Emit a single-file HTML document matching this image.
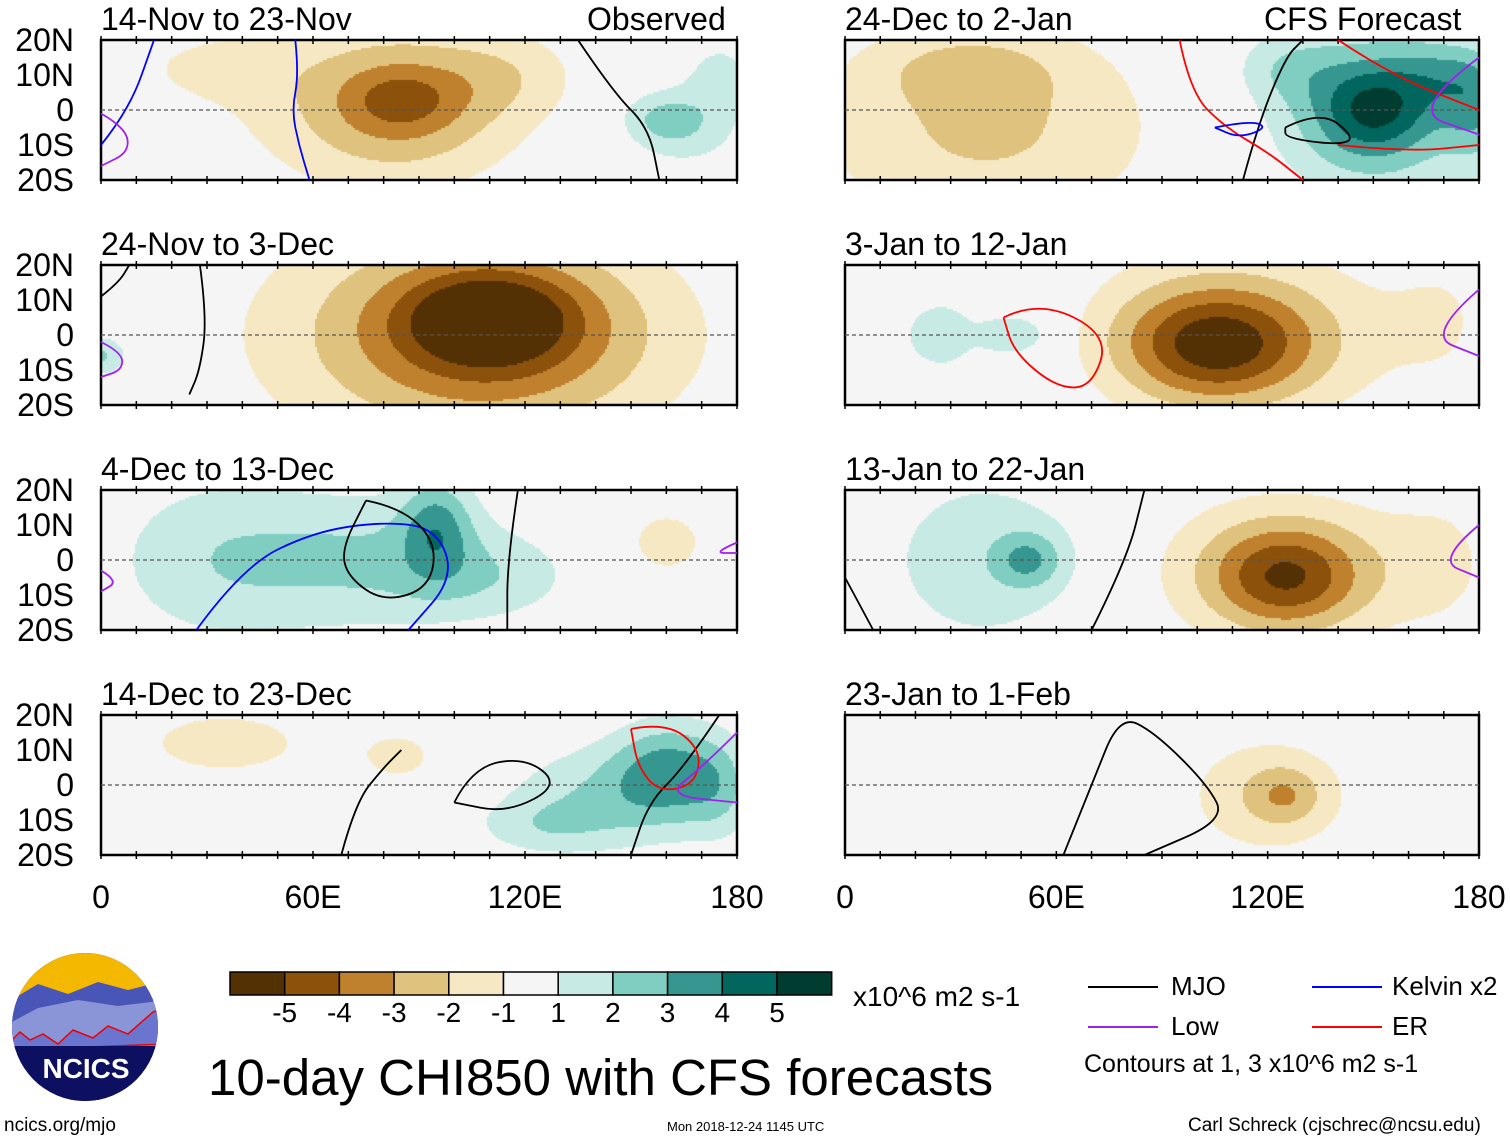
<!DOCTYPE html>
<html><head><meta charset="utf-8"><style>
html,body{margin:0;padding:0;background:#fff}
body{width:1510px;height:1142px;position:relative;overflow:hidden;font-family:"Liberation Sans",sans-serif;color:#000}
.t{position:absolute;white-space:nowrap;line-height:1}
canvas{position:absolute}
svg{position:absolute;left:0;top:0}
</style></head><body>
<div id="root"></div>
<svg id="ov" width="1510" height="1142"></svg>
<script>
// ---- data ----
const levels=[-5,-4,-3,-2,-1,1,2,3,4,5];
const colors=["#543005","#8c510a","#bf812d","#dfc27d","#f6e8c3","#f5f5f5","#c7eae5","#80cdc1","#35978f","#01665e","#003c30"];
const titles=["14-Nov to 23-Nov","24-Nov to 3-Dec","4-Dec to 13-Dec","14-Dec to 23-Dec","24-Dec to 2-Jan","3-Jan to 12-Jan","13-Jan to 22-Jan","23-Jan to 1-Feb"];
const latTicks=["20N","10N","0","10S","20S"];
const lonTicks=["0","60E","120E","180"];
const lonTickVals=[0,60,120,180];
// blobs: [lon, lat, amplitude, lonWidth, latWidth]
const blobs1=[[85,0,-2.0,30,20],[85,3,-1.5,15,9],[75,5,-1.3,50,30],[115,10,-1,20,12],[30,12,-0.8,25,10],[158,-2,1.8,12,8],[175,8,1.4,12,14],[165,-8,1.1,15,10]];
const blobs2=[[110,5,-3.3,23,13],[110,0,-3,45,25],[100,0,-1.5,70,40],[0,-6,2.2,6,6],[15,-5,1.2,10,12]];
const blobs3=[[95,10,2.5,10,14],[75,0,2,40,20],[30,0,1.4,30,25],[110,-5,1.2,25,12],[160,5,-1.6,12,10]];
const blobs4=[[35,12,-1.4,30,12],[85,8,-1.2,15,10],[160,5,2.5,15,14],[145,-3,2.0,30,15],[175,0,1.5,10,15],[125,-12,1.2,20,8]];
const blobs5=[[40,-5,-2.2,50,30],[35,12,-1.2,25,10],[150,0,3,30,25],[150,0,2.5,15,12],[170,10,1.5,15,10],[125,12,1.2,15,10],[180,0,2,10,15]];
const blobs6=[[105,-3,-3.5,25,15],[110,0,-2.5,45,25],[50,0,1.5,8,5],[30,0,1.2,30,25],[170,5,-0.8,15,20]];
const blobs7=[[125,-5,-3,20,14],[125,-3,-2.3,40,22],[52,0,2.2,10,8],[40,0,1.5,35,30],[170,0,-0.8,15,20]];
const blobs8=[[125,-3,-1.5,10,8],[120,-3,-1.8,25,18],[45,0,0.6,20,20],[175,-3,1,5,5]];
const allBlobs=[blobs1,blobs2,blobs3,blobs4,blobs5,blobs6,blobs7,blobs8];
// contours: [panel, color, points [lon,lat]]
const contours=[
[0,"#0000ff",[[0,-10],[8,0],[15,20]]],
[0,"#0000ff",[[55,20],[56,10],[54,0],[56,-10],[59,-20]]],
[0,"#000",[[135,20],[145,5],[155,-5],[158,-20]]],
[0,"#a020f0",[[0,-1],[7,-5],[8,-12],[0,-16]]],
[1,"#000",[[28,20],[30,5],[28,-10],[25,-17]]],
[1,"#000",[[0,11],[5,15],[8,20]]],
[1,"#a020f0",[[0,-2],[6,-5],[6,-10],[0,-12]]],
[2,"#0000ff",[[27,-20],[40,-2],[60,8],[80,11],[95,9],[100,-5],[87,-20]]],
[2,"#000",[[75,17],[85,15],[95,5],[93,-8],[80,-12],[70,-5],[68,3],[75,17]]],
[2,"#000",[[118,20],[115,0],[115,-20]]],
[2,"#a020f0",[[0,-3],[5,-6],[0,-9]]],
[2,"#a020f0",[[180,5],[173,2],[180,2]]],
[3,"#000",[[68,-20],[72,-5],[80,5],[85,10]]],
[3,"#000",[[100,-5],[105,5],[120,8],[130,0],[115,-8],[100,-5]]],
[3,"#000",[[175,20],[165,5],[155,-5],[150,-20]]],
[3,"#ff0000",[[150,16],[160,18],[170,10],[168,0],[158,-2],[152,5],[150,16]]],
[3,"#a020f0",[[180,15],[170,5],[160,-3],[180,-5]]],
[4,"#000",[[113,-20],[117,-5],[125,15],[130,20]]],
[4,"#000",[[125,-5],[135,0],[145,-8],[140,-10],[125,-8],[125,-5]]],
[4,"#ff0000",[[95,20],[98,5],[108,-5],[120,-12],[130,-20]]],
[4,"#ff0000",[[140,20],[155,10],[180,0]]],
[4,"#ff0000",[[140,-10],[160,-12],[180,-10]]],
[4,"#0000ff",[[105,-5],[115,-3],[120,-5],[112,-8],[105,-5]]],
[4,"#a020f0",[[180,15],[160,0],[180,-7]]],
[5,"#ff0000",[[45,5],[55,10],[75,0],[70,-15],[60,-15],[48,-5],[45,5]]],
[5,"#a020f0",[[180,13],[165,0],[180,-6]]],
[6,"#000",[[0,-5],[8,-20]]],
[6,"#000",[[70,-20],[80,0],[85,20]]],
[6,"#a020f0",[[180,10],[168,0],[180,-5]]],
[7,"#000",[[62,-20],[70,0],[78,20],[88,15],[103,0],[108,-10],[85,-20]]]
];
// ---- layout ----
const PX=[101,845],PW=[636,634],PT=[40,265,490,715],PH=140;
const root=document.getElementById('root');
const ov=document.getElementById('ov');
const NS="http://www.w3.org/2000/svg";
function xs(p,lon){return PX[p>3?1:0]+lon/180*PW[p>3?1:0];}
function ys(p,lat){return PT[p%4]+(20-lat)/40*PH;}
function field(b,lon,lat){let v=0;for(const k of b){const dx=(lon-k[0])/k[3],dy=(lat-k[1])/k[4];v+=k[2]*Math.exp(-dx*dx-dy*dy);}return v;}
function cls(v){if(v>-1&&v<1)return 5;let i=0;while(i<levels.length&&v>=levels[i])i++;return i;}
function txt(s,x,y,fs,name,extra){const d=document.createElement('div');d.className='t';d.textContent=s;d.style.left=x+'px';d.style.top=y+'px';d.style.fontSize=fs+'px';if(extra)Object.assign(d.style,extra);


root.appendChild(d);return d;}
for(let p=0;p<8;p++){
 const c=p>3?1:0,x0=PX[c],y0=PT[p%4],W=PW[c];
 const cv=document.createElement('canvas');cv.width=W;cv.height=PH;cv.style.left=x0+'px';cv.style.top=y0+'px';
 
 
 root.appendChild(cv);
 const g=cv.getContext('2d');const s=2;
 for(let yy=0;yy<PH;yy+=s)for(let xx=0;xx<W;xx+=s){const lon=(xx+1)/W*180,lat=20-(yy+1)/PH*40;g.fillStyle=colors[cls(field(allBlobs[p],lon,lat))];g.fillRect(xx,yy,s,s);}
 const r=document.createElementNS(NS,'rect');r.setAttribute('x',x0);r.setAttribute('y',y0);r.setAttribute('width',W);r.setAttribute('height',PH);r.setAttribute('fill','none');r.setAttribute('stroke','#000');r.setAttribute('stroke-width','2.5');
 
 
 ov.appendChild(r);
 const eq=document.createElementNS(NS,'line');eq.setAttribute('x1',x0);eq.setAttribute('x2',x0+W);eq.setAttribute('y1',ys(p,0));eq.setAttribute('y2',ys(p,0));eq.setAttribute('stroke','#555');eq.setAttribute('stroke-dasharray','4 3');eq.setAttribute('stroke-width','1.2');
 
 
 ov.appendChild(eq);
 for(let l=0;l<=180;l+=10){for(const yy of [y0,y0+PH]){const t=document.createElementNS(NS,'line');const xx=xs(p,l);t.setAttribute('x1',xx);t.setAttribute('x2',xx);t.setAttribute('y1',yy-4);t.setAttribute('y2',yy+4);t.setAttribute('stroke','#000');t.setAttribute('stroke-width','1.5');
 
 
 ov.appendChild(t);}}
 txt(titles[p],x0,y0-37,32,'panel-title');
 if(c===0)latTicks.forEach((s2,i)=>{txt(s2,0,y0+i*35-16,32,'lat-label',{width:'74px',textAlign:'right'});});
}
txt("Observed",587,3,32,'observed-label');
txt("CFS Forecast",1264,3,32,'cfs-forecast-label');
[0,1].forEach(c=>lonTickVals.forEach((v,i)=>{const x=PX[c]+v/180*PW[c];txt(lonTicks[i],x-60,881,32,'lon-label',{width:'120px',textAlign:'center'});}));
for(const [p,col,pts] of contours){
 const P=pts.map(q=>[xs(p,q[0]),ys(p,q[1])]);
 let d='M'+P[0][0].toFixed(1)+' '+P[0][1].toFixed(1);
 for(let i=1;i<P.length-1;i++){const mx=(P[i][0]+P[i+1][0])/2,my=(P[i][1]+P[i+1][1])/2;d+='Q'+P[i][0].toFixed(1)+' '+P[i][1].toFixed(1)+' '+mx.toFixed(1)+' '+my.toFixed(1);}
 const L=P[P.length-1];d+='L'+L[0].toFixed(1)+' '+L[1].toFixed(1);
 const e=document.createElementNS(NS,'path');e.setAttribute('d',d);e.setAttribute('fill','none');e.setAttribute('stroke',col);e.setAttribute('stroke-width','1.8');e.setAttribute('stroke-linejoin','round');
 
 
 ov.appendChild(e);
}
for(let i=0;i<11;i++){const r=document.createElementNS(NS,'rect');r.setAttribute('x',230+i*54.7);r.setAttribute('y',972);r.setAttribute('width',54.7);r.setAttribute('height',23);r.setAttribute('fill',colors[i]);r.setAttribute('stroke','#000');r.setAttribute('stroke-width','1.5');
 
 
 ov.appendChild(r);}
levels.forEach((v,i)=>{txt(String(v),230+(i+1)*54.7-30,999,28,'colorbar-label',{width:'60px',textAlign:'center'});});
txt("x10^6 m2 s-1",853,983,28,'colorbar-units');
txt("10-day CHI850 with CFS forecasts",208,1052,51,'chart-title');
txt("ncics.org/mjo",4,1116,19,'url-label');
txt("Mon 2018-12-24 1145 UTC",667,1120,13,'timestamp');
txt("Carl Schreck (cjschrec@ncsu.edu)",1188,1116,19,'author-label');
txt("MJO",1171,973,26,'legend-mjo');txt("Low",1171,1013,26,'legend-low');
txt("Kelvin x2",1392,973,26,'legend-kelvin');txt("ER",1392,1013,26,'legend-er');
txt("Contours at 1, 3 x10^6 m2 s-1",1084,1052,25,'contour-note');
[[1088,987,"#000"],[1088,1027,"#a020f0"],[1312,987,"#0000ff"],[1312,1027,"#ff0000"]].forEach(a=>{const l=document.createElementNS(NS,'line');l.setAttribute('x1',a[0]);l.setAttribute('x2',a[0]+70);l.setAttribute('y1',a[1]);l.setAttribute('y2',a[1]);l.setAttribute('stroke',a[2]);l.setAttribute('stroke-width','2');
 
 
 ov.appendChild(l);});
</script>
<svg width="160" height="160" style="left:8px;top:952px">
<defs><clipPath id="cl"><ellipse cx="77" cy="75" rx="73" ry="74"/></clipPath></defs>
<g clip-path="url(#cl)">
<rect x="0" y="0" width="160" height="160" fill="#0d1060"/>
<rect x="0" y="0" width="160" height="45" fill="#f5b800"/>
<path d="M0 50 L30 32 L60 42 L90 30 L120 38 L160 28 L160 100 L0 100Z" fill="#4a55b8"/>
<path d="M0 72 L30 56 L70 48 L110 54 L160 48 L160 95 L0 100Z" fill="#8a95d8"/>
<path d="M0 92 L12 80 L22 88 L35 82 L50 92 L65 78 L85 86 L100 74 L120 82 L145 60 L160 55 L160 92 L0 98Z" fill="#6a75d0" stroke="#e00" stroke-width="1.5"/>
<rect x="0" y="94" width="160" height="70" fill="#0d1060"/>
</g>
<text x="78" y="126" text-anchor="middle" font-family="Liberation Sans" font-weight="bold" font-size="28" fill="#fff">NCICS</text>
</svg>
</body></html>
